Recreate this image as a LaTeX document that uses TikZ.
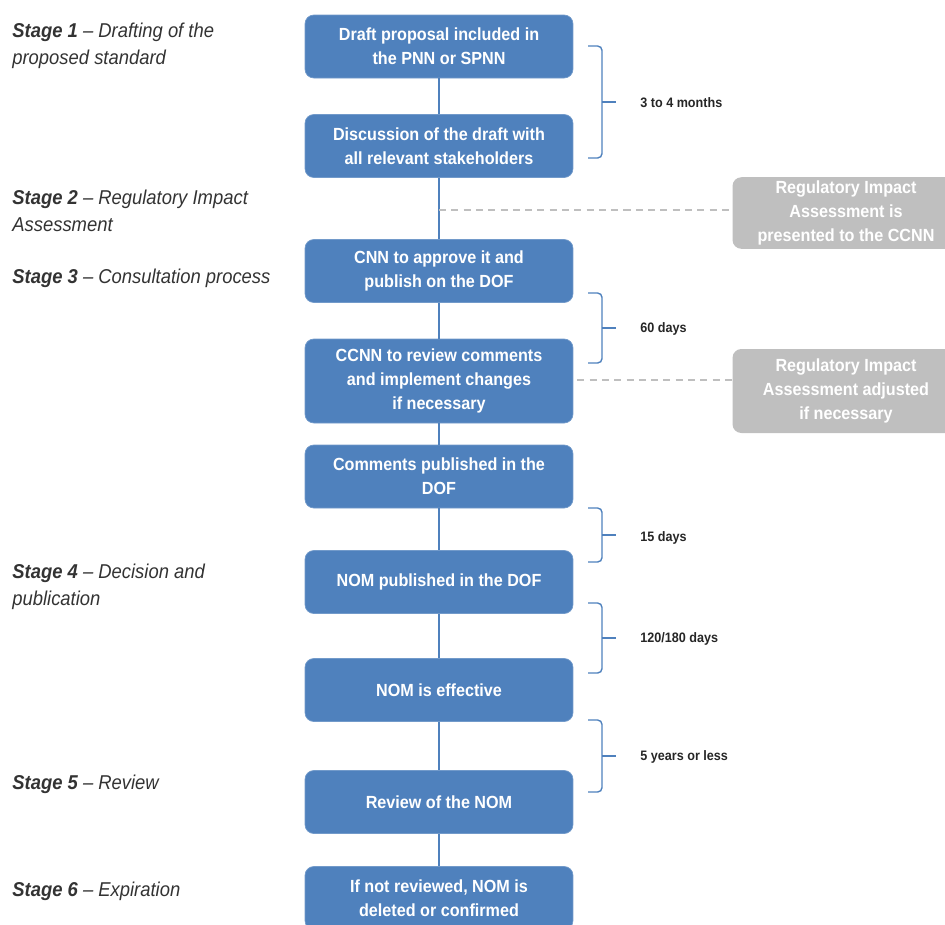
\documentclass[tikz,border=0pt]{standalone}
\usepackage{fontspec}
\setmainfont{Liberation Sans}[FakeStretch=0.92]
\usetikzlibrary{calc}
\definecolor{stepblue}{RGB}{79,129,189}
\definecolor{riagrey}{RGB}{191,191,191}
\tikzset{
	stepbox/.style={draw=stepblue!80!white, fill=stepblue, rounded corners=5pt, minimum width=5.36cm, minimum height=1.26cm, inner sep=2pt, align=center, text=white, font=\fontsize{10}{13.7}\selectfont\bfseries},
	riabox/.style={fill=riagrey, rounded corners=5pt, minimum width=4.54cm, minimum height=1.36cm, inner sep=2pt, align=center, text=white, font=\fontsize{10}{13.7}\selectfont\bfseries},
	flow/.style={stepblue, line width=0.8pt},
	riadash/.style={riagrey, line width=0.8pt, dash pattern=on 4pt off 3pt},
	period/.style={stepblue, line width=0.8pt, rounded corners=2.5pt},
	periodlabel/.style={anchor=west, inner sep=0pt, text=black!85, font=\fontsize{7.8}{9}\selectfont\bfseries},
	stage/.style={anchor=west, align=left, inner sep=0pt, text=black!80, font=\fontsize{11.4}{15.4}\selectfont\itshape}
}
% right brace: \period{top}{bottom}
\def\period#1#2{\draw[period] (588,#1) -- (602,#1) -- (602,#2) -- (588,#2);
	\draw[period] (602,{(#1+#2)/2}) -- (616,{(#1+#2)/2});}

\begin{document}
\begin{tikzpicture}[x=0.02cm, y=-0.02cm]
		%%%%% START %%%%%
		\useasboundingbox (0,0) rectangle (945,924);
		\clip (0,0) rectangle (945,924);
		
		% stages
		\node[stage] (s1) at (12,45.5) {\textbf{Stage 1} -- Drafting of the\\proposed standard};
		\node[stage] (s2) at (12,210.5) {\textbf{Stage 2} -- Regulatory Impact\\Assessment};
		\node[stage] (s3) at (12,278) {\textbf{Stage 3} -- Consultation process};
		\node[stage] (s4) at (12,586.5) {\textbf{Stage 4} -- Decision and\\publication};
		\node[stage] (s5) at (12,784) {\textbf{Stage 5} -- Review};
		\node[stage] (s6) at (12,891) {\textbf{Stage 6} -- Expiration};
		
		% process
		\node[stepbox] (b1) at (439,46.5) {Draft proposal included in\\the PNN or SPNN};
		\node[stepbox] (b2) at (439,146) {Discussion of the draft with\\all relevant stakeholders};
		\node[stepbox] (b3) at (439,271) {CNN to approve  it and\\publish on the DOF};
		\node[stepbox, minimum height=1.68cm] (b4) at (439,381) {CCNN to review comments\\and implement changes\\if necessary};
		\node[stepbox] (b5) at (439,476.5) {Comments published in the\\DOF};
		\node[stepbox] (b6) at (439,582) {NOM published in the DOF};
		\node[stepbox] (b7) at (439,690) {NOM is effective};
		\node[stepbox] (b8) at (439,802) {Review of the NOM};
		\node[stepbox] (b9) at (439,898) {If not reviewed, NOM is\\deleted or confirmed};
		
		\foreach \a/\b in {b1/b2,b2/b3,b3/b4,b4/b5,b5/b6,b6/b7,b7/b8,b8/b9}
			\draw[flow] (\a.south) -- (\b.north);
		
		% regulatory impact assessment
		\node[riabox] (rA) at (846,213) {Regulatory Impact\\Assessment is\\presented to the CCNN};
		\node[riabox, minimum height=1.68cm] (rB) at (846,391) {Regulatory Impact\\Assessment adjusted\\if necessary};
		
		\coordinate (tA) at (439,210);
		\draw[riadash] (tA) -- (tA -| rA.west);
		\draw[riadash] ($(b4.east)+(4,-1)$) -- ($(b4.east -| rB.west)+(0,-1)$);
		
		% periods
		\period{46}{158}
		\node[periodlabel] (p1) at (640,103) {3 to 4 months};
		\period{293}{363}
		\node[periodlabel] (p2) at (640,329) {60 days};
		\period{508}{562}
		\node[periodlabel] (p3) at (640,538) {15 days};
		\period{603}{673}
		\node[periodlabel] (p4) at (640,639) {120/180 days};
		\period{720}{792}
		\node[periodlabel] (p5) at (640,757) {5 years or less};
		%%%%% END %%%%%
	\end{tikzpicture}
\end{document}
